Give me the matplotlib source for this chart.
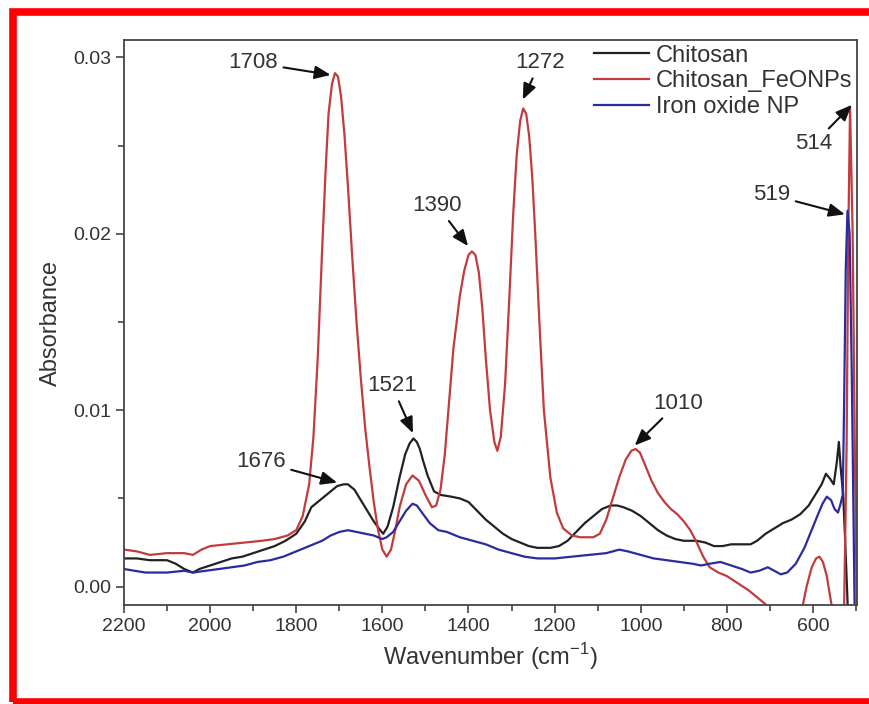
import matplotlib.pyplot as plt
from matplotlib.patches import Rectangle
from matplotlib.ticker import MultipleLocator

plt.rcParams['font.family'] = ['Liberation Sans', 'DejaVu Sans']

# Chitosan_FeONPs (red)
red_x = [2200, 2170, 2140, 2100, 2060, 2040, 2020, 2000, 1960, 1920, 1880, 1850,
         1820, 1800, 1785, 1770, 1760, 1750, 1740, 1732, 1725, 1717, 1710, 1703,
         1696, 1688, 1680, 1670, 1660, 1650, 1640, 1630, 1620, 1610, 1600, 1590,
         1580, 1570, 1560, 1545, 1530, 1515, 1500, 1485, 1475, 1465, 1455, 1445,
         1435, 1420, 1410, 1400, 1392, 1384, 1376, 1368, 1360, 1350, 1340, 1333,
         1325, 1315, 1305, 1296, 1288, 1280, 1273, 1266, 1259, 1252, 1245, 1235,
         1225, 1210, 1195, 1180, 1160, 1140, 1110, 1095, 1080, 1065, 1050, 1035,
         1022, 1012, 1002, 990, 975, 960, 945, 930, 915, 900, 885, 870, 855, 840,
         820, 800, 775, 750, 725, 700, 680, 640, 625, 615, 603, 593, 585, 577,
         568, 560, 550, 535, 528, 522, 518, 514, 508, 503, 498]
red_y = [0.0021, 0.0020, 0.0018, 0.0019, 0.0019, 0.0018, 0.0021, 0.0023, 0.0024, 0.0025, 0.0026, 0.0027,
         0.0029, 0.0032, 0.0040, 0.0058, 0.0085, 0.0130, 0.0190, 0.0235, 0.0268, 0.0285, 0.0291, 0.0289,
         0.0278, 0.0256, 0.0227, 0.0187, 0.0150, 0.0118, 0.0090, 0.0068, 0.0048, 0.0032, 0.0021, 0.0017,
         0.0021, 0.0032, 0.0045, 0.0058, 0.0063, 0.0060, 0.0052, 0.0045, 0.0046, 0.0055, 0.0075, 0.0105,
         0.0135, 0.0165, 0.0179, 0.0188, 0.0190, 0.0188, 0.0178, 0.0158, 0.0130, 0.0100, 0.0082, 0.0077,
         0.0085, 0.0115, 0.0165, 0.0212, 0.0245, 0.0264, 0.0271, 0.0268, 0.0255, 0.0232, 0.0200, 0.0148,
         0.0100, 0.0062, 0.0042, 0.0033, 0.0029, 0.0028, 0.0028, 0.0030, 0.0038, 0.0050, 0.0062, 0.0072,
         0.0077, 0.0078, 0.0076, 0.0069, 0.0060, 0.0053, 0.0048, 0.0044, 0.0041, 0.0037, 0.0032, 0.0025, 0.0017, 0.0011,
         0.0008, 0.0006, 0.0002, -0.0002, -0.0007, -0.0012, -0.0020, -0.0025, -0.0012, 0.0000, 0.0011, 0.0016, 0.0017, 0.0014,
         0.0006, -0.0006, -0.0020, -0.0030, -0.0015, 0.0080, 0.0200, 0.0272, 0.0200, 0.0080, -0.0020]

# Chitosan (black)
blk_x = [2200, 2170, 2140, 2100, 2080, 2060, 2040, 2025, 2000, 1975, 1950, 1925,
         1900, 1875, 1850, 1825, 1800, 1780, 1765, 1745, 1725, 1705, 1690, 1680,
         1665, 1650, 1635, 1620, 1605, 1598, 1588, 1575, 1560, 1547, 1537, 1528,
         1520, 1513, 1505, 1495, 1480, 1465, 1440, 1420, 1400, 1380, 1360, 1340,
         1320, 1300, 1280, 1260, 1240, 1210, 1190, 1170, 1150, 1130, 1110, 1090,
         1070, 1055, 1040, 1020, 1000, 980, 960, 940, 920, 900, 870, 850, 830,
         810, 790, 770, 745, 730, 710, 690, 670, 650, 630, 610, 595, 580, 570,
         560, 552, 545, 540, 536, 530, 526, 522, 518]
blk_y = [0.0016, 0.0016, 0.0015, 0.0015, 0.0013, 0.0010, 0.0008, 0.0010, 0.0012, 0.0014, 0.0016, 0.0017,
         0.0019, 0.0021, 0.0023, 0.0026, 0.0030, 0.0037, 0.0045, 0.0049, 0.0053, 0.0057, 0.0058, 0.0058,
         0.0055, 0.0049, 0.0043, 0.0037, 0.0032, 0.0030, 0.0034, 0.0045, 0.0062, 0.0075, 0.0081, 0.0084,
         0.0082, 0.0078, 0.0071, 0.0063, 0.0054, 0.0052, 0.0051, 0.0050, 0.0048, 0.0043, 0.0038, 0.0034,
         0.0030, 0.0027, 0.0025, 0.0023, 0.0022, 0.0022, 0.0023, 0.0026, 0.0031, 0.0036, 0.0040, 0.0044,
         0.0046, 0.0046, 0.0045, 0.0043, 0.0040, 0.0036, 0.0032, 0.0029, 0.0027, 0.0026, 0.0026, 0.0025, 0.0023,
         0.0023, 0.0024, 0.0024, 0.0024, 0.0026, 0.0030, 0.0033, 0.0036, 0.0038, 0.0041, 0.0046, 0.0052, 0.0058, 0.0064,
         0.0061, 0.0058, 0.0070, 0.0082, 0.0068, 0.0052, 0.0030, 0.0005, -0.0020]

# Iron oxide NP (blue)
blu_x = [2200, 2175, 2150, 2100, 2060, 2040, 2010, 1980, 1950, 1920, 1890, 1860,
         1830, 1800, 1780, 1760, 1740, 1720, 1700, 1680, 1660, 1640, 1620, 1600,
         1590, 1575, 1560, 1545, 1530, 1520, 1505, 1490, 1470, 1450, 1420, 1390,
         1360, 1330, 1300, 1270, 1240, 1200, 1160, 1120, 1080, 1050, 1030, 1000,
         970, 940, 910, 880, 860, 840, 815, 790, 765, 745, 725, 705, 690, 675,
         660, 640, 620, 605, 590, 578, 568, 558, 550, 542, 536, 531, 528, 524,
         520, 515, 510, 506, 503]
blu_y = [0.0010, 0.0009, 0.0008, 0.0008, 0.0009, 0.0008, 0.0009, 0.0010, 0.0011, 0.0012, 0.0014, 0.0015,
         0.0017, 0.0020, 0.0022, 0.0024, 0.0026, 0.0029, 0.0031, 0.0032, 0.0031, 0.0030, 0.0029, 0.0027,
         0.0028, 0.0031, 0.0037, 0.0043, 0.0047, 0.0046, 0.0041, 0.0036, 0.0032, 0.0031, 0.0028, 0.0026,
         0.0024, 0.0021, 0.0019, 0.0017, 0.0016, 0.0016, 0.0017, 0.0018, 0.0019, 0.0021, 0.0020, 0.0018,
         0.0016, 0.0015, 0.0014, 0.0013, 0.0012, 0.0013, 0.0014, 0.0012, 0.0010, 0.0008, 0.0009, 0.0011, 0.0009, 0.0007,
         0.0008, 0.0013, 0.0022, 0.0031, 0.0040, 0.0047, 0.0051, 0.0049, 0.0044, 0.0042, 0.0047, 0.0052, 0.0100, 0.0180,
         0.0213, 0.0200, 0.0120, 0.0040, -0.0020]

# peak labels: text, text position, arrow tip
peak_labels = ["1708", "1272", "1390", "1521", "1676", "1010", "514", "519"]
label_pos = [(1900, 0.0297), (1234, 0.0297), (1473, 0.0216), (1578, 0.0114),
             (1882, 0.0071), (914, 0.0104), (598, 0.0251), (696, 0.0222)]
arrow_tip = [(1720, 0.0290), (1274, 0.0276), (1401, 0.0193), (1529, 0.0087),
             (1705, 0.0059), (1014, 0.0080), (510, 0.0273), (526, 0.0211)]

text_col = "#333333"

fig = plt.figure(figsize=(8.7, 7.04), dpi=100)
ax = fig.add_axes([0.1425, 0.1406, 0.8425, 0.8026])

ax.plot(blk_x, blk_y, color="#222222", lw=1.6, label="Chitosan")
ax.plot(red_x, red_y, color="#c23b3e", lw=1.6, label="Chitosan_FeONPs")
ax.plot(blu_x, blu_y, color="#2b2b9e", lw=1.6, label="Iron oxide NP")

ax.set_xlim(2200, 498)
ax.set_ylim(-0.00104, 0.03098)

ax.xaxis.set_major_locator(MultipleLocator(200))
ax.xaxis.set_minor_locator(MultipleLocator(100))
ax.yaxis.set_major_locator(MultipleLocator(0.01))
ax.yaxis.set_minor_locator(MultipleLocator(0.005))
ax.yaxis.set_major_formatter(plt.FormatStrFormatter("%.2f"))

ax.tick_params(which="both", direction="out", colors="#444444",
               labelcolor=text_col, labelsize=14, width=1.2)
ax.tick_params(which="major", length=6)
ax.tick_params(which="minor", length=4)
for s in ax.spines.values():
    s.set_color("#444444")
    s.set_linewidth(1.3)

ax.set_xlabel("Wavenumber (cm$^{\\mathregular{-1}}$)", fontsize=17, color=text_col, labelpad=4)
ax.set_ylabel("Absorbance", fontsize=17, color=text_col, labelpad=8)

for lab, tpos, tip in zip(peak_labels, label_pos, arrow_tip):
    ax.annotate(lab, xy=tip, xytext=tpos, fontsize=16, color=text_col,
                ha="center", va="center",
                arrowprops=dict(arrowstyle="-|>,head_length=0.6,head_width=0.25",
                                color="#111111", lw=1.5, shrinkA=2, shrinkB=0))

leg = ax.legend(loc="upper right", bbox_to_anchor=(1.0, 1.0), frameon=False,
                fontsize=17, handlelength=2.3, handletextpad=0.3,
                labelspacing=0.15, borderaxespad=0.1, borderpad=0.1)
for t in leg.get_texts():
    t.set_color(text_col)

# red frame around the figure
fig.add_artist(Rectangle((13.5 / 870, 2.5 / 704), 1.1, (704 - 11.5 - 2.5) / 704,
                         transform=fig.transFigure, fill=False,
                         edgecolor="#ff0000", lw=5.5, clip_on=False))

plt.savefig("out.png", dpi=100)
